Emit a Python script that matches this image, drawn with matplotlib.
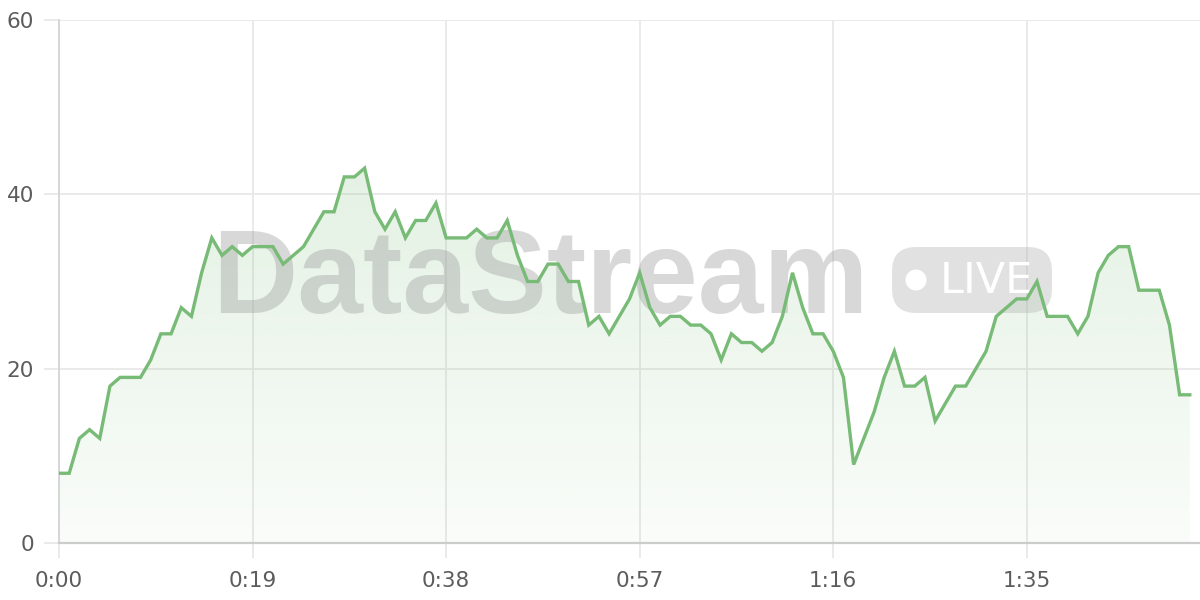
import numpy as np
import matplotlib
matplotlib.use("Agg")
import matplotlib.pyplot as plt
from matplotlib.patches import FancyBboxPatch, Circle
from matplotlib.transforms import IdentityTransform

# one sample per second, 0:00 .. 1:51
seconds = list(range(112))
values = [
    8, 8, 12, 13, 12, 18, 19, 19, 19, 21,
    24, 24, 27, 26, 31, 35, 33, 34, 33, 34,
    34, 34, 32, 33, 34, 36, 38, 38, 42, 42,
    43, 38, 36, 38, 35, 37, 37, 39, 35, 35,
    35, 36, 35, 35, 37, 33, 30, 30, 32, 32,
    30, 30, 25, 26, 24, 26, 28, 31, 27, 25,
    26, 26, 25, 25, 24, 21, 24, 23, 23, 22,
    23, 26, 31, 27, 24, 24, 22, 19, 9, 12,
    15, 19, 22, 18, 18, 19, 14, 16, 18, 18,
    20, 22, 26, 27, 28, 28, 30, 26, 26, 26,
    24, 26, 31, 33, 34, 34, 29, 29, 29, 25,
    17, 17,
]
x_ticks = [0, 19, 38, 57, 76, 95]
x_tick_labels = ["0:00", "0:19", "0:38", "0:57", "1:16", "1:35"]
y_ticks = [0, 20, 40, 60]

line_color = "#78bb76"
text_color = "#5c5c5c"
grid_color = "#e8e8e8"

plt.rcParams["font.family"] = ["DejaVu Sans"]

fig = plt.figure(figsize=(12, 6), dpi=100)
ax = fig.add_axes([59 / 1200, 57 / 600, 1141 / 1200, 523 / 600])
ax.set_xlim(0, 112)
ax.set_ylim(0, 60)

# watermark, placed in pixel coordinates (origin bottom-left)
px = IdentityTransform()
ax.text(540, 287, "DataStream", transform=px, ha="center", va="baseline",
        fontsize=85, fontweight="bold", family="Liberation Sans",
        color="#9a9a9a", alpha=0.38, zorder=2.5)
ax.add_patch(FancyBboxPatch((892, 287), 160, 66, transform=px,
                            boxstyle="round,pad=0,rounding_size=24",
                            facecolor="#b0b0b0", edgecolor="none",
                            alpha=0.37, zorder=2.5))
ax.add_patch(Circle((916, 320), 10.5, transform=px, facecolor="white",
                    edgecolor="none", zorder=2.6))
ax.text(986, 307, "LIVE", transform=px, ha="center", va="baseline",
        fontsize=31, family="DejaVu Sans", color="white", zorder=2.6)

# gradient fill under the line
poly = ax.fill_between(seconds, values, 0, color="none", zorder=2)
grad = np.linspace(0.04, 0.2, 256).reshape(-1, 1)
rgba = np.zeros((256, 1, 4))
rgba[..., 0] = 0x78 / 255
rgba[..., 1] = 0xbb / 255
rgba[..., 2] = 0x76 / 255
rgba[..., 3] = grad
img = ax.imshow(rgba, extent=[0, 111, 0, 43], origin="lower",
                aspect="auto", zorder=2)
img.set_clip_path(poly.get_paths()[0], transform=ax.transData)

ax.plot(seconds, values, color=line_color, linewidth=2.4, zorder=3,
        solid_joinstyle="miter")

ax.set_xticks(x_ticks)
ax.set_xticklabels(x_tick_labels)
ax.set_yticks(y_ticks)
ax.grid(True, color=grid_color, linewidth=1.3, zorder=0)
ax.set_axisbelow(True)
ax.tick_params(axis="both", colors=grid_color, labelcolor=text_color,
               labelsize=15.5, length=11, width=1.3)
ax.tick_params(axis="x", pad=9)
ax.tick_params(axis="y", pad=7)
for side in ["top", "right"]:
    ax.spines[side].set_visible(False)
ax.spines["left"].set_color("#d4d4d4")
ax.spines["bottom"].set_color("#cccccc")
ax.spines["left"].set_linewidth(1.3)
ax.spines["bottom"].set_linewidth(1.6)

fig.savefig("out.png", dpi=100)
